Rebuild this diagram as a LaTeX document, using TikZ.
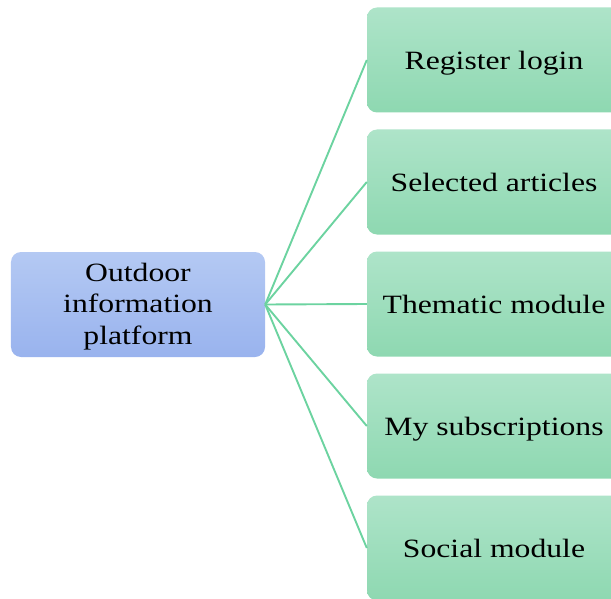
\documentclass[tikz,border=0pt]{standalone}
\usepackage{fontspec}
\setmainfont{Liberation Serif}[FakeStretch=1.2]
\definecolor{bluetop}{HTML}{B4C9F3}
\definecolor{bluebot}{HTML}{99B3EE}
\definecolor{greentop}{HTML}{AEE4C9}
\definecolor{greenbot}{HTML}{8ED8B1}
\definecolor{linkgreen}{HTML}{6CD3A0}
\tikzset{
  rootbox/.style={rounded corners=10bp, top color=bluetop, bottom color=bluebot,
    draw=none, minimum width=254bp, minimum height=105bp, inner sep=0pt,
    align=center, font=\fontsize{26.5}{31.5}\selectfont},
  itembox/.style={rounded corners=10bp, top color=greentop, bottom color=greenbot,
    draw=none, minimum width=254bp, minimum height=105bp, inner sep=0pt,
    text depth=0pt, align=center, font=\fontsize{26.5}{31.5}\selectfont},
  link/.style={draw=linkgreen, line width=1.9bp}
}
\begin{document}
\begin{tikzpicture}[x=1bp, y=-1bp]
  \useasboundingbox (0,0) rectangle (611,599);
  \node[rootbox] (root) at (138,304.5) {\strut Outdoor\\information\\platform};
  \node[itembox] (i1) at (494,60)  {Register login};
  \node[itembox] (i2) at (494,182) {Selected articles};
  \node[itembox] (i3) at (494,304) {Thematic module};
  \node[itembox] (i4) at (494,426) {My subscriptions};
  \node[itembox] (i5) at (494,548) {Social module};
  \foreach \n in {i1,i2,i3,i4,i5}
    \draw[link] (root.east) -- (\n.west);
\end{tikzpicture}
\end{document}
